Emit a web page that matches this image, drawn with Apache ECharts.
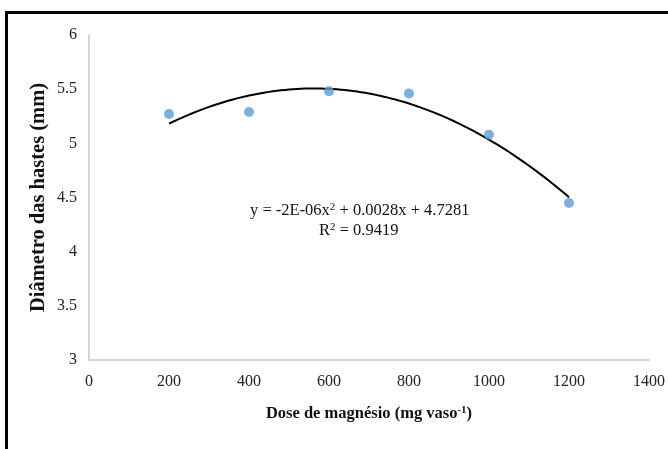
<!DOCTYPE html>
<html>
<head>
<meta charset="utf-8">
<script src="https://cdn.jsdelivr.net/npm/echarts@6/dist/echarts.min.js"></script>
<style>html,body{margin:0;padding:0;background:#fff}#c{width:668px;height:449px}</style>
</head>
<body>
<div id="c"></div>
<script>
// Data
const doses = [200, 400, 600, 800, 1000, 1200];
const diameters = [5.27, 5.29, 5.48, 5.46, 5.08, 4.45];
const xTicks = [0, 200, 400, 600, 800, 1000, 1200, 1400];
const yTicks = [3, 3.5, 4, 4.5, 5, 5.5, 6];
const equationText = 'y = -2E-06x{sup|2} + 0.0028x + 4.7281';
const r2Text = 'R{sup|2} = 0.9419';

// Least-squares quadratic trendline fitted to the data (as the spreadsheet does)
function quadFit(xs, ys) {
  let S = [[0,0,0],[0,0,0],[0,0,0]], T = [0,0,0];
  for (let i = 0; i < xs.length; i++) {
    const p = [1, xs[i], xs[i]*xs[i]];
    for (let r = 0; r < 3; r++) { T[r] += p[r]*ys[i]; for (let c = 0; c < 3; c++) S[r][c] += p[r]*p[c]; }
  }
  const M = S.map((row, i) => row.concat([T[i]]));
  for (let i = 0; i < 3; i++) {
    for (let k = i+1; k < 3; k++) {
      const f = M[k][i] / M[i][i];
      for (let j = i; j < 4; j++) M[k][j] -= f*M[i][j];
    }
  }
  const sol = [0,0,0];
  for (let i = 2; i >= 0; i--) {
    let s = M[i][3];
    for (let j = i+1; j < 3; j++) s -= M[i][j]*sol[j];
    sol[i] = s / M[i][i];
  }
  return sol; // c, b, a
}
const [c0, b1, a2] = quadFit(doses, diameters);
const xMin = doses[0], xMax = doses[doses.length-1];
const trend = [];
for (let i = 0; i <= 100; i++) {
  const x = xMin + (xMax - xMin) * i / 100;
  trend.push([x, a2*x*x + b1*x + c0]);
}

const serif = '"Liberation Serif", "Times New Roman", serif';
const chart = echarts.init(document.getElementById('c'), null, {renderer: 'canvas'});
chart.setOption({
  animation: false,
  backgroundColor: '#fff',
  grid: {left: 89, right: 19, top: 35, bottom: 89},
  xAxis: {
    type: 'value', min: xTicks[0], max: xTicks[xTicks.length-1], interval: 200,
    axisLine: {show: true, onZero: false, lineStyle: {color: '#c8c8c8', width: 1.5}},
    axisTick: {show: false},
    splitLine: {show: false},
    axisLabel: {fontFamily: serif, fontSize: 16, color: '#222', margin: 14, formatter: v => String(v)},
    name: 'Dose de magnésio (mg vaso{sup|-1})',
    nameLocation: 'middle', nameGap: 45, nameMoveOverlap: false,
    nameTextStyle: {fontFamily: serif, fontSize: 16.5, fontWeight: 'bold', color: '#111',
      rich: {sup: {fontFamily: serif, fontSize: 11, fontWeight: 'bold', color: '#111', verticalAlign: 'top', padding: [0,0,7,0]}}}
  },
  yAxis: {
    type: 'value', min: yTicks[0], max: yTicks[yTicks.length-1], interval: 0.5,
    axisLine: {show: true, lineStyle: {color: '#c8c8c8', width: 1.5}},
    axisTick: {show: false},
    splitLine: {show: false},
    axisLabel: {fontFamily: serif, fontSize: 16, color: '#222', margin: 12, formatter: v => String(v)},
    name: 'Diâmetro das hastes (mm)',
    nameLocation: 'middle', nameGap: 40, nameRotate: 90, nameMoveOverlap: false,
    nameTextStyle: {fontFamily: serif, fontSize: 20.5, fontWeight: 'bold', color: '#111'}
  },
  series: [
    {
      type: 'line', data: trend, showSymbol: false, smooth: false,
      lineStyle: {color: '#000', width: 2}, z: 2
    },
    {
      type: 'scatter', data: doses.map((d, i) => [d, diameters[i]]),
      symbol: 'circle', symbolSize: 10,
      itemStyle: {color: '#5b9bd5'}, z: 3
    }
  ],
  graphic: [
    {type: 'rect', shape: {x: 6.5, y: 12.5, width: 720, height: 500},
     style: {fill: null, stroke: '#000', lineWidth: 3}, silent: true, z: 100},
    {type: 'text', left: 250, top: 202,
     style: {text: equationText, font: '16.5px ' + serif, fill: '#111',
       rich: {sup: {font: '11px ' + serif, fill: '#111', verticalAlign: 'top', padding: [0,0,7,0]}}}},
    {type: 'text', left: 319, top: 222,
     style: {text: r2Text, font: '16.5px ' + serif, fill: '#111',
       rich: {sup: {font: '11px ' + serif, fill: '#111', verticalAlign: 'top', padding: [0,0,7,0]}}}}
  ]
});
</script>
</body>
</html>
